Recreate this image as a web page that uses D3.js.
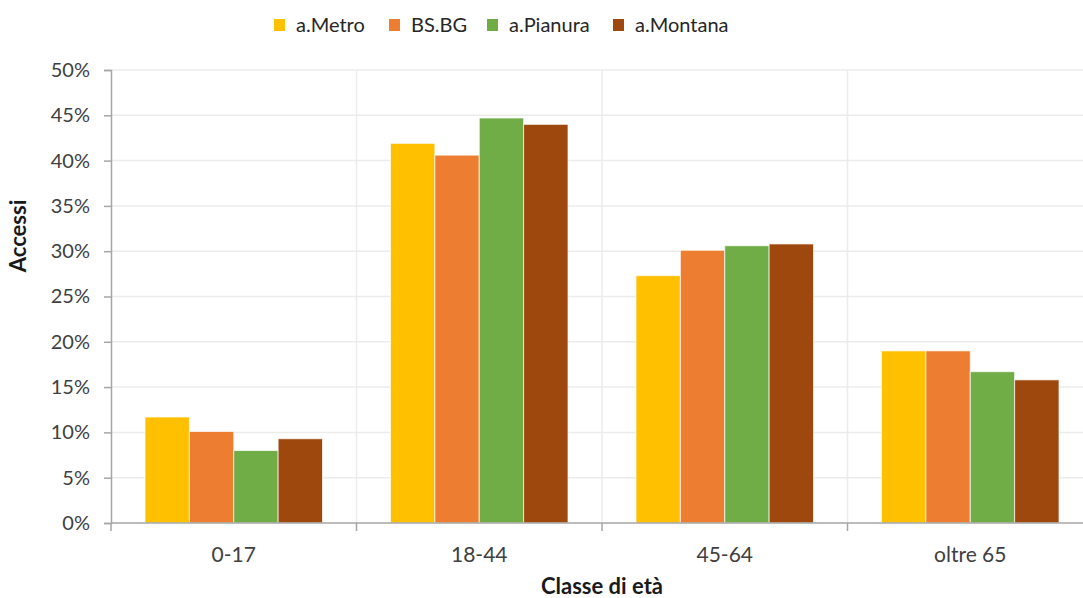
<!DOCTYPE html>
<html>
<head>
<meta charset="utf-8">
<script src="https://cdn.jsdelivr.net/npm/d3@7"></script>
<style>
  html, body { margin: 0; padding: 0; background: #fff; }
  svg { display: block; font-family: Lato, "Open Sans", sans-serif; }
</style>
</head>
<body>
<svg id="chart" width="1083" height="598"></svg>
<script>
// Age classes and share of accesses (%) for each area
const categories = ["0-17", "18-44", "45-64", "oltre 65"];
const seriesNames = ["a.Metro", "BS.BG", "a.Pianura", "a.Montana"];
const metro    = [11.7, 41.9, 27.3, 19.0];
const bsbg     = [10.1, 40.6, 30.1, 19.0];
const pianura  = [8.0, 44.7, 30.6, 16.7];
const montana  = [9.3, 44.0, 30.8, 15.8];
const yTicks = [0, 5, 10, 15, 20, 25, 30, 35, 40, 45, 50];
const colors = ["#FFC000", "#ED7D31", "#70AD47", "#9E480E"];

const seriesValues = [metro, bsbg, pianura, montana];

const svg = d3.select("#chart");
const margin = { left: 111, top: 70, bottom: 523, right: 1093 };

const x = d3.scaleBand().domain(categories).range([margin.left, margin.right]).padding(0);
const groupPad = 34;
const xInner = d3.scaleBand().domain(seriesNames)
  .range([groupPad, x.bandwidth() - groupPad]).padding(0);
const y = d3.scaleLinear().domain([0, 50]).range([margin.bottom, margin.top]);

// horizontal gridlines
svg.append("g")
  .selectAll("line")
  .data(yTicks.filter(d => d > 0))
  .join("line")
  .attr("x1", margin.left).attr("x2", margin.right)
  .attr("y1", d => y(d)).attr("y2", d => y(d))
  .attr("stroke", "#ececec").attr("stroke-width", 1.5);

// vertical gridlines between categories
svg.append("g")
  .selectAll("line")
  .data(categories.slice(1))
  .join("line")
  .attr("x1", d => x(d)).attr("x2", d => x(d))
  .attr("y1", margin.top).attr("y2", margin.bottom)
  .attr("stroke", "#ececec").attr("stroke-width", 1.5);

// bars
const groups = svg.append("g")
  .selectAll("g")
  .data(categories)
  .join("g")
  .attr("transform", d => `translate(${x(d)},0)`);

groups.selectAll("rect")
  .data((c, i) => seriesNames.map((s, j) => ({ s, j, v: seriesValues[j][i] })))
  .join("rect")
  .attr("x", d => xInner(d.s))
  .attr("width", xInner.bandwidth())
  .attr("y", d => y(d.v))
  .attr("height", d => y(0) - y(d.v))
  .attr("fill", d => colors[d.j])
  .attr("stroke", "rgba(255,255,255,0.7)")
  .attr("stroke-width", 1);

// y axis
const yAxis = svg.append("g")
  .attr("transform", `translate(${margin.left},0)`)
  .call(d3.axisLeft(y).tickValues(yTicks).tickFormat(d => d + "%").tickSize(7).tickPadding(14));
yAxis.select(".domain").attr("stroke", "#a6a6a6").attr("stroke-width", 1.5);
yAxis.selectAll(".tick line").attr("stroke", "#a6a6a6").attr("stroke-width", 1.5);
yAxis.selectAll(".tick text")
  .attr("fill", "#404040")
  .style("font-size", "20px")
  .style("font-family", "Lato, 'Open Sans', sans-serif");

// x axis with ticks at category boundaries
const xAxisG = svg.append("g").attr("transform", `translate(0,${margin.bottom})`);
xAxisG.append("line")
  .attr("x1", margin.left).attr("x2", margin.right)
  .attr("stroke", "#a6a6a6").attr("stroke-width", 1.5);
xAxisG.selectAll("line.tk")
  .data(categories)
  .join("line")
  .attr("class", "tk")
  .attr("x1", d => x(d)).attr("x2", d => x(d))
  .attr("y1", 0).attr("y2", 8)
  .attr("stroke", "#a6a6a6").attr("stroke-width", 1.5);
xAxisG.selectAll("text")
  .data(categories)
  .join("text")
  .attr("x", d => x(d) + x.bandwidth() / 2)
  .attr("y", 39)
  .attr("text-anchor", "middle")
  .attr("fill", "#404040")
  .style("font-size", "21px")
  .text(d => d);

// axis titles
svg.append("text")
  .attr("x", (margin.left + margin.right) / 2)
  .attr("y", 594)
  .attr("text-anchor", "middle")
  .attr("fill", "#1a1a1a")
  .style("font-size", "22px")
  .style("font-weight", "bold")
  .text("Classe di età");

svg.append("text")
  .attr("transform", "translate(26,236) rotate(-90)")
  .attr("text-anchor", "middle")
  .attr("fill", "#1a1a1a")
  .style("font-size", "22px")
  .style("font-weight", "bold")
  .text("Accessi");

// legend
const legendX = [274, 389, 487, 613];
const legend = svg.append("g")
  .selectAll("g")
  .data(seriesNames)
  .join("g")
  .attr("transform", (d, i) => `translate(${legendX[i]},0)`);
legend.append("rect")
  .attr("x", 0).attr("y", 19)
  .attr("width", 11).attr("height", 12)
  .attr("fill", (d, i) => colors[i]);
legend.append("text")
  .attr("x", 22).attr("y", 32)
  .attr("fill", "#262626")
  .style("font-size", "20px")
  .text(d => d);
</script>
</body>
</html>
